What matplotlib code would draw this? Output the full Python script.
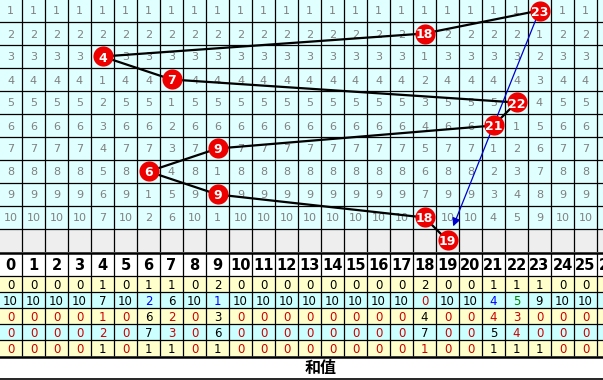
import numpy as np
import matplotlib.pyplot as plt
from matplotlib.patches import Rectangle

# draw sums (one per row) and the value in the grey "next" row
sums = [23, 18, 4, 7, 22, 21, 9, 6, 9, 18]
next_sum = 19

# omission numbers shown in each cell (the hit cell shows the ball instead)
miss = [
    [1, 1, 1, 1, 1, 1, 1, 1, 1, 1, 1, 1, 1, 1, 1, 1, 1, 1, 1, 1, 1, 1, 1, 0, 1, 1],
    [2, 2, 2, 2, 2, 2, 2, 2, 2, 2, 2, 2, 2, 2, 2, 2, 2, 2, 0, 2, 2, 2, 2, 1, 2, 2],
    [3, 3, 3, 3, 0, 3, 3, 3, 3, 3, 3, 3, 3, 3, 3, 3, 3, 3, 1, 3, 3, 3, 3, 2, 3, 3],
    [4, 4, 4, 4, 1, 4, 4, 0, 4, 4, 4, 4, 4, 4, 4, 4, 4, 4, 2, 4, 4, 4, 4, 3, 4, 4],
    [5, 5, 5, 5, 2, 5, 5, 1, 5, 5, 5, 5, 5, 5, 5, 5, 5, 5, 3, 5, 5, 5, 0, 4, 5, 5],
    [6, 6, 6, 6, 3, 6, 6, 2, 6, 6, 6, 6, 6, 6, 6, 6, 6, 6, 4, 6, 6, 0, 1, 5, 6, 6],
    [7, 7, 7, 7, 4, 7, 7, 3, 7, 0, 7, 7, 7, 7, 7, 7, 7, 7, 5, 7, 7, 1, 2, 6, 7, 7],
    [8, 8, 8, 8, 5, 8, 0, 4, 8, 1, 8, 8, 8, 8, 8, 8, 8, 8, 6, 8, 8, 2, 3, 7, 8, 8],
    [9, 9, 9, 9, 6, 9, 1, 5, 9, 0, 9, 9, 9, 9, 9, 9, 9, 9, 7, 9, 9, 3, 4, 8, 9, 9],
    [10, 10, 10, 10, 7, 10, 2, 6, 10, 1, 10, 10, 10, 10, 10, 10, 10, 10, 0, 10, 10, 4, 5, 9, 10, 10],
]

cols = list(range(26))        # fully visible columns
header = list(range(27))      # header runs one column past the right edge

# statistics rows under the header
appear = [0, 0, 0, 0, 1, 0, 1, 1, 0, 2, 0, 0, 0, 0, 0, 0, 0, 0, 2, 0, 0, 1, 1, 1, 0, 0]
omit = [10, 10, 10, 10, 7, 10, 2, 6, 10, 1, 10, 10, 10, 10, 10, 10, 10, 10, 0, 10, 10, 4, 5, 9, 10, 10]
avg_omit = [0, 0, 0, 0, 1, 0, 6, 2, 0, 3, 0, 0, 0, 0, 0, 0, 0, 0, 4, 0, 0, 4, 3, 0, 0, 0]
max_omit = [0, 0, 0, 0, 2, 0, 7, 3, 0, 6, 0, 0, 0, 0, 0, 0, 0, 0, 7, 0, 0, 5, 4, 0, 0, 0]
max_run = [0, 0, 0, 0, 1, 0, 1, 1, 0, 1, 0, 0, 0, 0, 0, 0, 0, 0, 1, 0, 0, 1, 1, 1, 0, 0]
stat_rows = [appear, omit, avg_omit, max_omit, max_run]
stat_colors = [
    "KKKKKKKKKKKKKKKKKKKKKKKKKK",
    "KKKKKKBKKBKKKKKKKKRKKBGKKK",
    "RRRRRRKRRKRRRRRRRRKRRRRRRR",
    "RRRRRRKRRKRRRRRRRRKRRKRRRR",
    "RRRRKRKKRKRRRRRRRRRRRKKKRR",
]
ink = {"K": "#000000", "R": "#cc0000", "B": "#0000ff", "G": "#008000"}
row_bg = ["#ffffcc", "#ccffff", "#ffffcc", "#ccffff", "#ffffcc"]

fig = plt.figure(figsize=(6.03, 3.80), dpi=100)
top = fig.add_axes([0, 1 - 252 / 380, 1, 252 / 380])
bot = fig.add_axes([0, 0, 1, 128 / 380])
x0, x1 = -10.5 / 23, 592.5 / 23
top.set_xlim(x0, x1)
top.set_ylim(10.5, -10.5 / 23)
bot.set_xlim(x0, x1)
bot.set_ylim(128, 0)
for a in (top, bot):
    a.axis("off")

# ---- trend grid ----
top.add_patch(Rectangle((-0.5, -0.5), 27, 10, fc="#e0ffff", lw=0, zorder=0))
top.add_patch(Rectangle((-0.5, 9.5), 27, 1, fc="#eeeeee", lw=0, zorder=0))
top.vlines(np.arange(27) + 0.5, -0.5, 10.5, colors="k", lw=0.9, zorder=1)
top.hlines(np.arange(10) + 0.5, -0.5, 26.5, colors="k", lw=0.9, zorder=1)

for r, row in enumerate(miss):
    for c in cols:
        if c == sums[r]:
            continue
        top.text(c, r, str(row[c]), ha="center", va="center_baseline",
                 fontsize=8, color="#808080", zorder=2)

path_x = sums + [next_sum]
path_y = list(range(len(path_x)))
top.plot(path_x, path_y, color="k", lw=1.6, zorder=3)
top.annotate("", xy=(next_sum, 10), xytext=(sums[0], 0),
             arrowprops=dict(arrowstyle="-|>", color="#0000cc", lw=0.9,
                             shrinkA=0, shrinkB=11, mutation_scale=12),
             zorder=4)
top.scatter(path_x, path_y, s=210, c="#ee0000", linewidths=0, zorder=5)
for x, y in zip(path_x, path_y):
    top.text(x, y, str(x), ha="center", va="center_baseline", fontsize=9,
             color="white", weight="bold", zorder=6)

# ---- header + stats table ----
for i, bg in enumerate(row_bg):
    bot.add_patch(Rectangle((-0.5, 24 + 16 * i), 27, 16, fc=bg, lw=0, zorder=0))
bot.vlines(np.arange(27) + 0.5, 1, 104, colors="k", lw=0.9, zorder=1)
bot.hlines([24, 40, 56, 72, 88], -0.5, 26.5, colors="k", lw=0.9, zorder=1)
bot.hlines([1, 104.5], -0.5, 26.5, colors="k", lw=1.8, zorder=1)
bot.hlines(127, -0.5, 26.5, colors="k", lw=1.2, zorder=1)

for c in header:
    bot.text(c, 12.5, str(c), ha="center", va="center_baseline", fontsize=10.5,
             weight="bold", color="k")
for i, vals in enumerate(stat_rows):
    for c in cols:
        bot.text(c, 32 + 16 * i, str(vals[c]), ha="center", va="center_baseline",
                 fontsize=8.5, color=ink[stat_colors[i][c]])

bot.text(13.5, 116, "和值", ha="center", va="center", fontsize=11.5,
         weight="bold", family=["Noto Sans CJK SC", "DejaVu Sans"])

fig.savefig("out.png", dpi=100)
